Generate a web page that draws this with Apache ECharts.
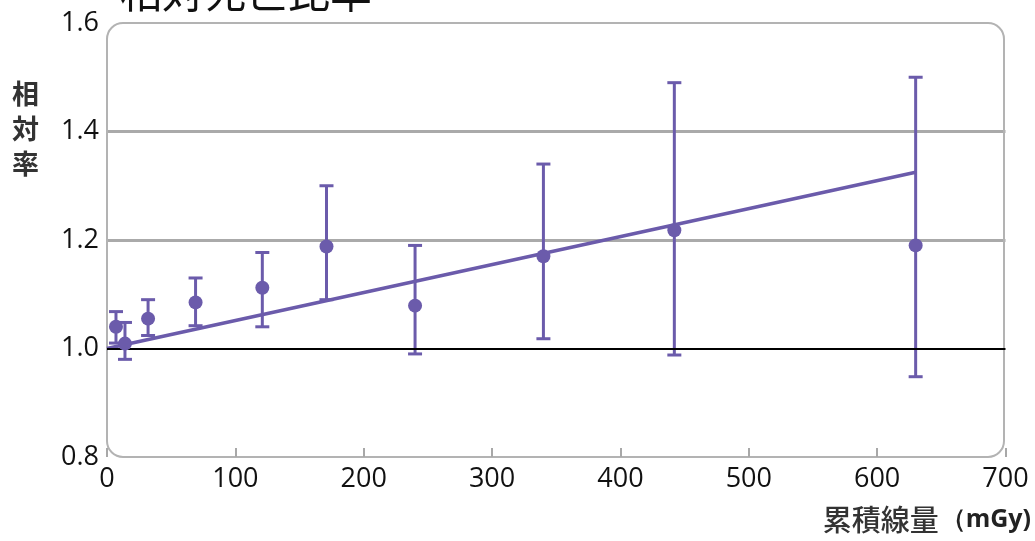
<!DOCTYPE html>
<html><head><meta charset="utf-8">
<script src="https://cdn.jsdelivr.net/npm/echarts@6/dist/echarts.min.js"></script>
<style>html,body{margin:0;padding:0;background:#fff}#c{width:1035px;height:541px}</style>
</head><body><div id="c"></div>
<script>
// Data
const doses   = [7, 14, 32, 69, 121, 171, 240, 340, 442, 630];
const ratios  = [1.040, 1.009, 1.055, 1.085, 1.112, 1.188, 1.079, 1.170, 1.218, 1.190];
const lowerCI = [1.010, 0.980, 1.024, 1.042, 1.040, 1.090, 0.990, 1.018, 0.988, 0.948];
const upperCI = [1.068, 1.048, 1.090, 1.130, 1.177, 1.300, 1.190, 1.340, 1.490, 1.500];
const trendX  = [0, 630];
const trendY  = [1.0, 1.325];
const xTicks  = [0, 100, 200, 300, 400, 500, 600, 700];
const yTicks  = [0.8, 1.0, 1.2, 1.4, 1.6];

const PURPLE = '#6b5bab';
const FONT = '"Open Sans", "Noto Sans", sans-serif';
const CJK = '"Noto Sans CJK JP", sans-serif';

const chart = echarts.init(document.getElementById('c'), null, {renderer: 'canvas'});
const points = doses.map((d, i) => [d, ratios[i]]);
const bars = doses.map((d, i) => [d, lowerCI[i], upperCI[i]]);
const trend = trendX.map((x, i) => [x, trendY[i]]);

const option = {
  animation: false,
  grid: {left: 107, right: 29.5, top: 23, bottom: 84, show: false},
  xAxis: {
    type: 'value', min: 0, max: 700, interval: 100,
    axisLine: {show: false},
    axisTick: {show: true, inside: true, length: 9, lineStyle: {color: '#a8a8a8', width: 2}},
    splitLine: {show: false},
    axisLabel: {color: '#111', fontSize: 27, fontFamily: FONT, margin: 9,
      formatter: v => xTicks.includes(v) ? String(v) : ''}
  },
  yAxis: {
    type: 'value', min: 0.8, max: 1.6, interval: 0.2,
    axisLine: {show: false}, axisTick: {show: false},
    splitLine: {show: true, lineStyle: {color: ['transparent', 'transparent', '#aaaaaa', '#aaaaaa', 'transparent'], width: 3}},
    axisLabel: {color: '#111', fontSize: 27, fontFamily: FONT, margin: 8,
      formatter: v => { const t = yTicks.find(y => Math.abs(y - v) < 1e-6); return t !== undefined ? t.toFixed(1) : ''; }}
  },
  series: [
    {
      type: 'line', data: trend, symbol: 'none', z: 3,
      lineStyle: {color: PURPLE, width: 3.5},
      markLine: {
        silent: true, symbol: 'none', label: {show: false},
        lineStyle: {color: '#000', width: 2, type: 'solid'},
        data: [{yAxis: 1.0}]
      }
    },
    {
      type: 'custom', z: 4,
      data: bars,
      encode: {x: 0, y: [1, 2]},
      renderItem: (params, api) => {
        const x = api.value(0);
        const lo = api.coord([x, api.value(1)]);
        const hi = api.coord([x, api.value(2)]);
        const w = 7;
        const st = {stroke: PURPLE, lineWidth: 3};
        return {type: 'group', children: [
          {type: 'line', shape: {x1: lo[0], y1: lo[1], x2: hi[0], y2: hi[1]}, style: st},
          {type: 'line', shape: {x1: hi[0] - w, y1: hi[1], x2: hi[0] + w, y2: hi[1]}, style: st},
          {type: 'line', shape: {x1: lo[0] - w, y1: lo[1], x2: lo[0] + w, y2: lo[1]}, style: st}
        ]};
      }
    },
    {
      type: 'scatter', data: points, symbol: 'circle', symbolSize: 14, z: 5,
      itemStyle: {color: PURPLE, opacity: 1}
    }
  ]
};
chart.setOption(option);

// frame and texts
const tl = chart.convertToPixel({gridIndex: 0}, [0, 1.6]);
const br = chart.convertToPixel({gridIndex: 0}, [700, 0.8]);
chart.setOption({
  graphic: [
    {type: 'rect', z: 0, silent: true,
      shape: {x: tl[0], y: tl[1], width: br[0] - tl[0] - 1.5, height: br[1] - tl[1], r: 16},
      style: {fill: 'none', stroke: '#b3b3b3', lineWidth: 2}},
    {type: 'text', left: 120, top: -29, silent: true,
      style: {text: '相対死亡比率', font: '42px ' + CJK, fill: '#111'}},
    {type: 'text', left: 12, top: 76, silent: true,
      style: {text: '相\n対\n率', font: 'bold 27px ' + CJK, fill: '#333', lineHeight: 35}},
    {type: 'text', right: 4, top: 505, silent: true,
      style: {rich: {
        a: {font: '500 29px ' + CJK, fill: '#333', padding: [0, 2, 0, 0]},
        b: {font: 'bold 25px ' + FONT, fill: '#222'}
      }, text: '{a|累積線量}{b|（mGy)}'}}
  ]
});
</script></body></html>
